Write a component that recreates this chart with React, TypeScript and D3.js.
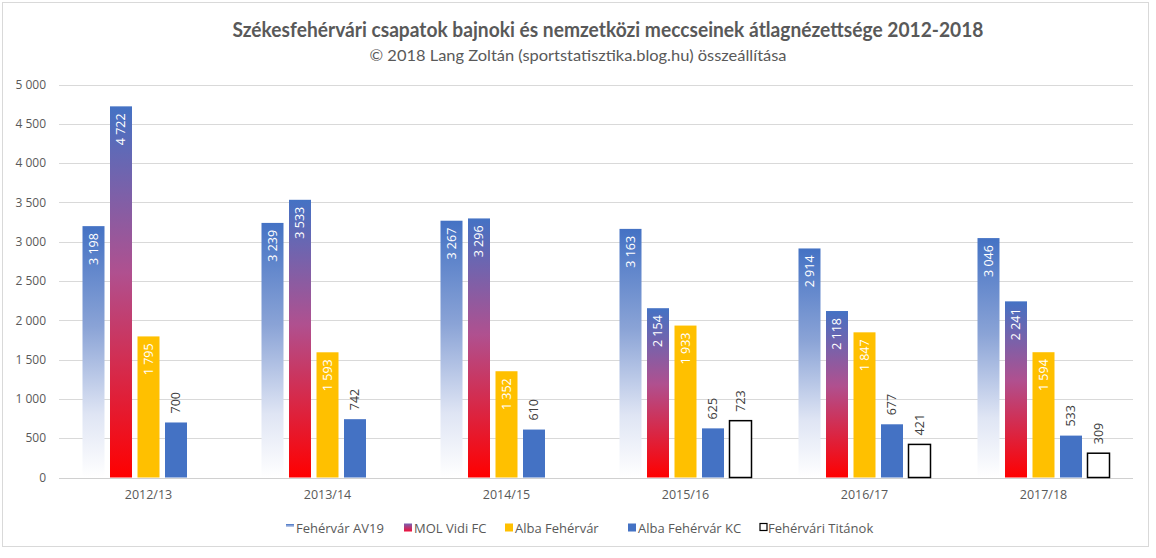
import React from "react";
import * as d3 from "d3";

const categories = ["2012/13", "2013/14", "2014/15", "2015/16", "2016/17", "2017/18"];
const seriesNames = ["Fehérvár AV19", "MOL Vidi FC", "Alba Fehérvár", "Alba Fehérvár KC", "Fehérvári Titánok"];
const av19 = [3198, 3239, 3267, 3163, 2914, 3046];
const vidi = [4722, 3533, 3296, 2154, 2118, 2241];
const alba = [1795, 1593, 1352, 1933, 1847, 1594];
const albaKC = [700, 742, 610, 625, 677, 533];
const titanok: (number | null)[] = [null, null, null, 723, 421, 309];
const yTicks = [0, 500, 1000, 1500, 2000, 2500, 3000, 3500, 4000, 4500, 5000];

const W = 1156, H = 558;
const plot = { left: 59, right: 1133, top: 84.5, bottom: 477.5 };

const fmt = (v: number) => {
  const s = String(v);
  return s.length > 3 ? s.slice(0, s.length - 3) + " " + s.slice(-3) : s;
};

export default function App() {
  const series = [av19, vidi, alba, albaKC, titanok];
  const y = d3.scaleLinear().domain([0, 5000]).range([plot.bottom, plot.top]);
  const x0 = d3.scaleBand<string>().domain(categories).range([plot.left, plot.right]).padding(0);
  const groupW = 137.5;
  const x1 = d3.scaleBand<string>().domain(seriesNames).range([0, groupW]).paddingInner(0.2).paddingOuter(0.1);
  const font = "'Open Sans', sans-serif";
  const titleFont = "Lato, 'Open Sans', sans-serif";
  const grey = "#595959";

  const legendX = [286, 404, 505, 628, 760];

  return (
    <div style={{ position: "absolute", left: 0, top: 0 }}>
      <svg width={W} height={H} style={{ display: "block", fontFamily: font }}>
        <defs>
          <linearGradient id="gAV" x1="0" y1="0" x2="0" y2="1">
            <stop offset="0" stopColor="#4472C4" />
            <stop offset="0.4" stopColor="#8aa3d6" />
            <stop offset="0.75" stopColor="#dfe5f4" />
            <stop offset="1" stopColor="#ffffff" />
          </linearGradient>
          <linearGradient id="gVidi" x1="0" y1="0" x2="0" y2="1">
            <stop offset="0" stopColor="#4472C4" />
            <stop offset="0.45" stopColor="#b0508f" />
            <stop offset="1" stopColor="#ff0000" />
          </linearGradient>
          <linearGradient id="gAVleg" x1="0" y1="0" x2="0" y2="1">
            <stop offset="0" stopColor="#4472C4" />
            <stop offset="1" stopColor="#c8d3ec" />
          </linearGradient>
          <linearGradient id="gVidiLeg" x1="0" y1="0" x2="0" y2="1">
            <stop offset="0" stopColor="#7a5fb0" />
            <stop offset="1" stopColor="#f0103a" />
          </linearGradient>
        </defs>
        <rect x={0} y={0} width={W} height={H} fill="#ffffff" />
        <rect x={2.5} y={2.5} width={1146} height={544} fill="#ffffff" stroke="#d9d9d9" />
        <text x={608} y={37} textAnchor="middle" fontFamily={titleFont} fontSize={20} fontWeight="bold" fill={grey} textLength={751} lengthAdjust="spacingAndGlyphs">
          Székesfehérvári csapatok bajnoki és nemzetközi meccseinek átlagnézettsége 2012-2018
        </text>
        <text x={578} y={61} textAnchor="middle" fontFamily={titleFont} fontSize={15} fill={grey} textLength={417} lengthAdjust="spacingAndGlyphs">
          © 2018 Lang Zoltán (sportstatisztika.blog.hu) összeállítása
        </text>
        {yTicks.map((t) => (
          <g key={t}>
            <line x1={plot.left} x2={plot.right} y1={Math.round(y(t)) + 0.5} y2={Math.round(y(t)) + 0.5} stroke={t === 0 ? "#d0d0d0" : "#d9d9d9"} strokeWidth={1} />
            <text x={46} y={y(t)} dy="0.35em" textAnchor="end" fontSize={12} fill={grey}>
              {fmt(t)}
            </text>
          </g>
        ))}
        {categories.map((c, ci) => {
          const gx = (x0(c) as number) + (x0.bandwidth() - groupW) / 2;
          return (
            <g key={c}>
              {series.map((s, si) => {
                const v = s[ci];
                if (v == null) return null;
                const bx = gx + (x1(seriesNames[si]) as number);
                const bw = x1.bandwidth();
                const top = y(v);
                const fill = si === 0 ? "url(#gAV)" : si === 1 ? "url(#gVidi)" : si === 2 ? "#FFC000" : si === 3 ? "#4472C4" : "#ffffff";
                const inside = si < 3;
                const cx = bx + bw / 2;
                const ly = inside ? top + 7 : top - 9;
                return (
                  <g key={si}>
                    <rect x={bx} y={top} width={bw} height={plot.bottom - top} fill={fill}
                      stroke={si === 4 ? "#000000" : "none"} strokeWidth={si === 4 ? 1.5 : 0} />
                    <text transform={`translate(${cx},${ly}) rotate(-90)`} textAnchor={inside ? "end" : "start"}
                      dy="0.35em" fontSize={12.5} fill={inside ? "#ffffff" : "#404040"}>
                      {fmt(v)}
                    </text>
                  </g>
                );
              })}
              <text x={(x0(c) as number) + x0.bandwidth() / 2} y={495} dy="0.35em" textAnchor="middle" fontSize={12.5} fill={grey}>
                {c}
              </text>
            </g>
          );
        })}
        {seriesNames.map((n, i) => {
          const lx = legendX[i];
          const fill = i === 0 ? "url(#gAVleg)" : i === 1 ? "url(#gVidiLeg)" : i === 2 ? "#FFC000" : i === 3 ? "#4472C4" : "#ffffff";
          return (
            <g key={n}>
              <rect x={lx} y={i === 0 ? 524 : 523.5} width={i === 4 ? 7 : 8} height={i === 0 ? 3 : i === 4 ? 7 : 8} fill={fill}
                stroke={i === 4 ? "#000" : "none"} strokeWidth={i === 4 ? 1.2 : 0} />
              <text x={lx + (i === 4 ? 8 : 10)} y={528} dy="0.35em" fontSize={13} fill={grey}>
                {n}
              </text>
            </g>
          );
        })}
      </svg>
    </div>
  );
}
